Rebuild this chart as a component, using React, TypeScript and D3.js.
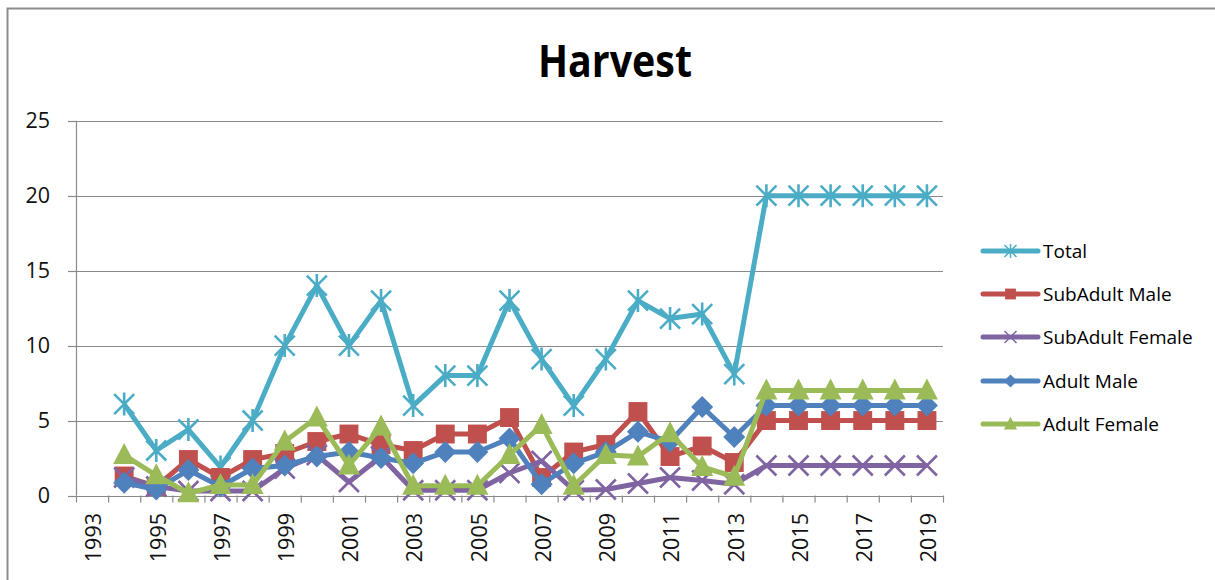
import React from "react";
import * as d3 from "d3";

const years: string[] = d3.range(1993, 2020).map(String);
const dataYears: string[] = d3.range(1994, 2020).map(String);
const yTicks: number[] = [0, 5, 10, 15, 20, 25];
const xLabelYears: string[] = years.filter((_, i) => i % 2 === 0);

const total: number[] = [6.1, 3, 4.4, 1.9, 5, 10, 14, 10, 13, 6, 8, 8, 13, 9.1, 6, 9.1, 13, 11.8, 12.1, 8.1, 20, 20, 20, 20, 20, 20];
const subAdultMale: number[] = [1.3, 0.6, 2.4, 1.2, 2.4, 2.8, 3.6, 4.1, 3.4, 3.0, 4.1, 4.1, 5.2, 1.2, 2.9, 3.4, 5.6, 2.6, 3.3, 2.2, 5, 5, 5, 5, 5, 5];
const subAdultFemale: number[] = [1.2, 0.6, 0.3, 0.3, 0.3, 1.8, 2.7, 0.9, 2.6, 0.35, 0.35, 0.35, 1.5, 2.3, 0.35, 0.4, 0.8, 1.2, 1.0, 0.75, 2, 2, 2, 2, 2, 2];
const adultMale: number[] = [0.85, 0.4, 1.7, 0.6, 1.8, 2.0, 2.6, 2.9, 2.5, 2.15, 2.9, 2.9, 3.8, 0.75, 2.15, 2.9, 4.25, 3.6, 5.9, 3.9, 6, 6, 6, 6, 6, 6];
const adultFemale: number[] = [2.7, 1.35, 0.15, 0.7, 0.7, 3.6, 5.2, 2.0, 4.6, 0.65, 0.65, 0.65, 2.7, 4.7, 0.65, 2.7, 2.6, 4.15, 1.9, 1.25, 7, 7, 7, 7, 7, 7];

type Marker = "star" | "square" | "x" | "diamond" | "triangle";
const series: { name: string; values: number[]; color: string; marker: Marker }[] = [
  { name: "Total", values: total, color: "#4BACC6", marker: "star" },
  { name: "SubAdult Male", values: subAdultMale, color: "#C0504D", marker: "square" },
  { name: "SubAdult Female", values: subAdultFemale, color: "#8064A2", marker: "x" },
  { name: "Adult Male", values: adultMale, color: "#4F81BD", marker: "diamond" },
  { name: "Adult Female", values: adultFemale, color: "#9BBB59", marker: "triangle" },
];

const FONT = "'Open Sans', 'Noto Sans', sans-serif";
const GRID = "#8a8a8a";

function MarkerShape({ type, cx, cy, color, s, sw }: { type: Marker; cx: number; cy: number; color: string; s: number; sw: number }) {
  switch (type) {
    case "square":
      return <rect x={cx - s * 0.45} y={cy - s * 0.45} width={s * 0.9} height={s * 0.9} fill={color} />;
    case "diamond":
      return <path d={`M${cx},${cy - s * 0.55}L${cx + s * 0.55},${cy}L${cx},${cy + s * 0.55}L${cx - s * 0.55},${cy}Z`} fill={color} />;
    case "triangle":
      return <path d={`M${cx},${cy - s * 0.6}L${cx + s * 0.55},${cy + s * 0.45}L${cx - s * 0.55},${cy + s * 0.45}Z`} fill={color} />;
    case "x": {
      const r = s * 0.5;
      return (
        <path d={`M${cx - r},${cy - r}L${cx + r},${cy + r}M${cx - r},${cy + r}L${cx + r},${cy - r}`} stroke={color} strokeWidth={sw} fill="none" />
      );
    }
    case "star": {
      const r = s * 0.5;
      return (
        <path
          d={`M${cx - r},${cy - r}L${cx + r},${cy + r}M${cx - r},${cy + r}L${cx + r},${cy - r}M${cx},${cy - r * 1.15}L${cx},${cy + r * 1.15}`}
          stroke={color}
          strokeWidth={sw}
          fill="none"
        />
      );
    }
  }
  return null;
}

export default function App() {
  const W = 1215;
  const H = 580;
  const x = d3.scaleBand<string>().domain(years).range([76, 943]).padding(0);
  const y = d3.scaleLinear().domain([0, 25]).range([495.5, 120.7]);
  const cx = (yr: string) => (x(yr) as number) + x.bandwidth() / 2;
  const line = d3
    .line<number>()
    .x((_, i) => cx(dataYears[i]))
    .y((d) => y(d));

  const legendY = [251, 294, 337, 381, 424];

  return (
    <svg width={W} height={H} style={{ position: "absolute", left: 0, top: 0, background: "#fff" }}>
      <rect x={7.5} y={8.5} width={W + 10} height={H + 10} fill="#fff" stroke="#8c8c8c" strokeWidth={2} />
      <text x={615} y={77} textAnchor="middle" fontFamily={FONT} fontWeight="bold" fontSize={44} textLength={154} lengthAdjust="spacingAndGlyphs" fill="#000">
        Harvest
      </text>

      {yTicks.map((t) => (
        <g key={t}>
          <line x1={76} x2={943} y1={Math.round(y(t)) + 0.5} y2={Math.round(y(t)) + 0.5} stroke={GRID} strokeWidth={1.2} />
          <line x1={68} x2={76} y1={Math.round(y(t)) + 0.5} y2={Math.round(y(t)) + 0.5} stroke={GRID} strokeWidth={1.2} />
          <text x={50} y={y(t)} dy="0.36em" textAnchor="end" fontFamily={FONT} fontSize={21.5} fill="#111">
            {t}
          </text>
        </g>
      ))}
      <line x1={76.5} x2={76.5} y1={y(25)} y2={y(0)} stroke={GRID} strokeWidth={1.2} />
      {years.map((yr) => (
        <line key={yr} x1={(x(yr) as number) + 0.5} x2={(x(yr) as number) + 0.5} y1={y(0)} y2={y(0) + 7} stroke={GRID} strokeWidth={1.2} />
      ))}
      <line x1={943.5} x2={943.5} y1={y(0)} y2={y(0) + 7} stroke={GRID} strokeWidth={1.2} />
      {xLabelYears.map((yr) => (
        <text
          key={yr}
          transform={`translate(${cx(yr) + 1.5},513) rotate(-90)`}
          textAnchor="end"
          dy="0.36em"
          fontFamily={FONT}
          fontSize={21.5}
          fill="#111"
        >
          {yr}
        </text>
      ))}

      {series.map((s) => (
        <g key={s.name}>
          <path d={line(s.values) as string} fill="none" stroke={s.color} strokeWidth={5} strokeLinejoin="round" />
          {s.values.map((v, i) => (
            <MarkerShape key={i} type={s.marker} cx={cx(dataYears[i])} cy={y(v)} color={s.color} s={s.marker === "square" ? 21 : 20} sw={2.6} />
          ))}
        </g>
      ))}

      {series.map((s, i) => (
        <g key={s.name}>
          <line x1={983} x2={1038} y1={legendY[i]} y2={legendY[i]} stroke={s.color} strokeWidth={5} strokeLinecap="round" />
          <MarkerShape type={s.marker} cx={1010.5} cy={legendY[i]} color={s.color} s={12} sw={1.5} />
          <text x={1043} y={legendY[i]} dy="0.36em" fontFamily={FONT} fontSize={19} fill="#000">
            {s.name}
          </text>
        </g>
      ))}
    </svg>
  );
}
